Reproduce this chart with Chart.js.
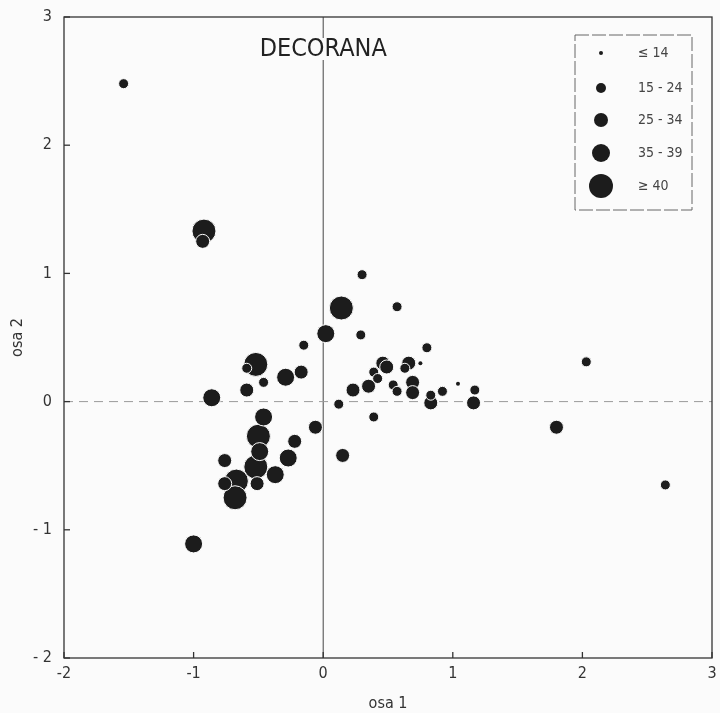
<!DOCTYPE html>
<html>
<head>
<meta charset="utf-8">
<script src="https://cdn.jsdelivr.net/npm/chart.js@4.4.1/dist/chart.umd.min.js"></script>
<style>
  html, body { margin: 0; padding: 0; background: #fbfbfb; }
</style>
</head>
<body>
<canvas id="ordination" width="720" height="713"></canvas>
<script>
// DECORANA ordination scores (osa 1 / osa 2) and size class of each sample
const osa1 = [-1.54, -0.92, -0.93, 0.14, 0.02, -0.15, -0.52, -0.59, -0.46, -0.29,
              -0.17, -0.59, -0.86, 0.12, -0.46, -0.06, -0.50, -0.22, -0.49, 0.15,
              -0.27, -0.76, -0.52, -0.37, -0.67, -0.76, -0.51, -0.68, -1.00, 0.30,
              0.57, 0.29, 0.80, 0.46, 0.49, 0.66, 0.63, 0.75, 0.39, 0.42,
              0.23, 0.35, 0.54, 0.57, 0.69, 0.69, 0.83, 0.83, 0.92, 1.04,
              1.17, 1.16, 0.39, 2.03, 1.80, 2.64];
const osa2 = [2.48, 1.33, 1.25, 0.73, 0.53, 0.44, 0.29, 0.26, 0.15, 0.19,
              0.23, 0.09, 0.03, -0.02, -0.12, -0.20, -0.27, -0.31, -0.39, -0.42,
              -0.44, -0.46, -0.51, -0.57, -0.62, -0.64, -0.64, -0.75, -1.11, 0.99,
              0.74, 0.52, 0.42, 0.30, 0.27, 0.30, 0.26, 0.30, 0.23, 0.18,
              0.09, 0.12, 0.13, 0.08, 0.15, 0.07, 0.05, -0.01, 0.08, 0.14,
              0.09, -0.01, -0.12, 0.31, -0.20, -0.65];
// 0: <=14, 1: 15-24, 2: 25-34, 3: 35-39, 4: >=40
const sizeClass = [1, 4, 2, 4, 3, 1, 4, 1, 1, 3,
                   2, 2, 3, 1, 3, 2, 4, 2, 3, 2,
                   3, 2, 4, 3, 4, 2, 2, 4, 3, 1,
                   1, 1, 1, 2, 2, 2, 1, 0, 1, 1,
                   2, 2, 1, 1, 2, 2, 1, 2, 1, 0,
                   1, 2, 1, 1, 2, 1];
const classLabels = ['\u2264 14', '15 - 24', '25 - 34', '35 - 39', '\u2265 40'];
const xTicks = [-2, -1, 0, 1, 2, 3];
const yTicks = [-2, -1, 0, 1, 2, 3];

// wygląd
const FONT = '"Liberation Sans Narrow", "DejaVu Sans Condensed", "Noto Sans", sans-serif';
const classRadius = [2, 5, 7, 9, 12];
const ink = '#1c1c1c';

// jeden zbiór danych na klasę wielkości
const datasets = classLabels.map((label, c) => ({
    label: label,
    data: osa1.map((x, i) => ({ x: x, y: osa2[i] })).filter((p, i) => sizeClass[i] === c),
    pointRadius: classRadius[c],
    pointHoverRadius: classRadius[c],
    backgroundColor: ink,
    borderColor: '#fbfbfb',
    borderWidth: c === 0 ? 0 : 1
}));

function line(ctx, x1, y1, x2, y2) {
    ctx.beginPath();
    ctx.moveTo(x1, y1);
    ctx.lineTo(x2, y2);
    ctx.stroke();
}

// ramka, osie zerowe, kreski podziałki do środka, tytuł
const framePlugin = {
    id: 'frame',
    beforeDatasetsDraw(chart) {
        const { ctx, chartArea: a, scales: { x, y } } = chart;
        ctx.save();
        const x0 = x.getPixelForValue(0);
        const y0 = y.getPixelForValue(0);

        ctx.strokeStyle = '#444';
        ctx.lineWidth = 1;
        line(ctx, x0, a.top, x0, a.bottom);

        ctx.strokeStyle = '#9a9a9a';
        ctx.setLineDash([9, 6]);
        line(ctx, a.left, y0, a.right, y0);
        ctx.setLineDash([]);

        ctx.strokeStyle = '#333';
        ctx.lineWidth = 1.3;
        ctx.strokeRect(a.left, a.top, a.width, a.height);
        xTicks.forEach(v => {
            const px = x.getPixelForValue(v);
            line(ctx, px, a.bottom, px, a.bottom - 6);
        });
        yTicks.forEach(v => {
            const py = y.getPixelForValue(v);
            line(ctx, a.left, py, a.left + 6, py);
        });

        // tytuł
        ctx.font = '25px ' + FONT;
        ctx.textAlign = 'center';
        ctx.textBaseline = 'middle';
        ctx.fillStyle = '#fbfbfb';
        ctx.fillRect(x0 - 4, 38, 8, 22);
        ctx.fillStyle = '#222';
        ctx.fillText('DECORANA', x0, 49);
        ctx.restore();
    },
    afterDatasetsDraw(chart) {
        // legenda w prawym górnym rogu
        const { ctx } = chart;
        ctx.save();
        ctx.strokeStyle = '#666';
        ctx.lineWidth = 1;
        ctx.setLineDash([14, 3]);
        ctx.strokeRect(575, 35, 117, 175);
        ctx.setLineDash([]);
        const rows = [53, 88, 120, 153, 186];
        ctx.font = '14px ' + FONT;
        ctx.textAlign = 'left';
        ctx.textBaseline = 'middle';
        classLabels.forEach((label, c) => {
            ctx.fillStyle = ink;
            ctx.beginPath();
            ctx.arc(601, rows[c], classRadius[c], 0, Math.PI * 2);
            ctx.fill();
            ctx.fillStyle = '#444';
            ctx.fillText(label, 638, rows[c]);
        });
        ctx.restore();
    }
};

const chart = new Chart(document.getElementById('ordination'), {
    type: 'scatter',
    data: { datasets: datasets },
    options: {
        responsive: false,
        animation: false,
        devicePixelRatio: 1,
        layout: { autoPadding: false, padding: { top: 17, right: 8, left: 0, bottom: 0 } },
        plugins: {
            legend: { display: false },
            tooltip: { enabled: false }
        },
        scales: {
            x: {
                type: 'linear',
                min: -2,
                max: 3,
                afterBuildTicks: s => { s.ticks = xTicks.map(v => ({ value: v })); },
                afterFit: s => { s.height = 55; s.paddingLeft = 0; s.paddingRight = 0; },
                grid: { display: false, drawTicks: false },
                border: { display: false },
                ticks: { font: { family: FONT, size: 16 }, color: '#333', padding: 6 },
                title: { display: true, text: 'osa 1', font: { family: FONT, size: 16 }, color: '#333', padding: { top: 0, bottom: 0 } }
            },
            y: {
                type: 'linear',
                min: -2,
                max: 3,
                afterBuildTicks: s => { s.ticks = yTicks.map(v => ({ value: v })); },
                afterFit: s => { s.width = 64; s.paddingTop = 0; s.paddingBottom = 0; },
                grid: { display: false, drawTicks: false },
                border: { display: false },
                ticks: {
                    font: { family: FONT, size: 16 },
                    color: '#333',
                    padding: 12,
                    callback: v => (v < 0 ? '- ' + Math.abs(v) : String(v))
                },
                title: { display: true, text: 'osa 2', font: { family: FONT, size: 16 }, color: '#333', padding: { top: 8, bottom: 0 } }
            }
        }
    },
    plugins: [framePlugin]
});
</script>
</body>
</html>
